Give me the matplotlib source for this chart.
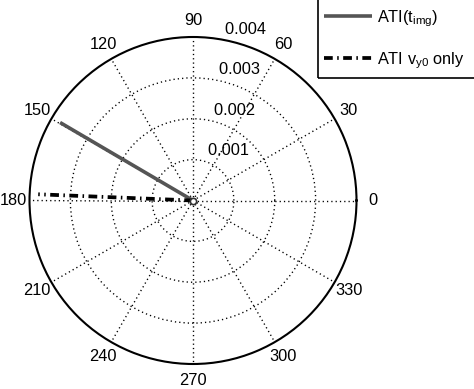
import numpy as np
import matplotlib
matplotlib.use("Agg")
import matplotlib.pyplot as plt
from matplotlib.patches import Rectangle

plt.rcParams['font.family'] = ['Liberation Sans', 'DejaVu Sans']
plt.rcParams['mathtext.fontset'] = 'custom'
plt.rcParams['mathtext.rm'] = 'Liberation Sans'
plt.rcParams['lines.scale_dashes'] = False

# data (angles in degrees, radii)
ati_theta_deg = [149.6, 149.6]
ati_r = [0.0, 0.00377]
vy0_theta_deg = [177.7, 177.7]
vy0_r = [0.0, 0.00379]
ring_values = [0.001, 0.002, 0.003, 0.004]
angle_ticks = list(range(0, 360, 30))
rmax = 0.004
labels = [r'ATI(t$_{\mathregular{img}}$)', r'ATI v$_{\mathregular{y0}}$ only']

W, H = 474, 389
fig = plt.figure(figsize=(W / 100, H / 100), dpi=100)
cx, cy, R = 193, 200.5, 163.5
ax = fig.add_axes([(cx - R) / W, (H - cy - R) / H, 2 * R / W, 2 * R / H], projection='polar')
ax.set_theta_zero_location('E')
ax.set_rlim(0, rmax)
ax.set_xticks(np.deg2rad(angle_ticks))
ax.set_xticklabels([])
ax.set_yticks(ring_values[:-1])
ax.set_yticklabels([])
ax.grid(True, color='black', linestyle=(0, (0.9, 2.2)), linewidth=1.0)
ax.spines['polar'].set_linewidth(1.5)
ax.spines['polar'].set_color('black')

fs = 11.8
# angle labels
for a in angle_ticks:
    ax.text(np.deg2rad(a), 1.1 * rmax, str(a), ha='center', va='center', fontsize=fs, clip_on=False)
# ring labels at 82 degrees
for v in ring_values:
    ax.text(np.deg2rad(82), v + rmax / 4 / 20, '  ' + f'{v:g}', ha='left', va='bottom', fontsize=fs, clip_on=False)

l1, = ax.plot(np.deg2rad(ati_theta_deg), ati_r, color='#555555', lw=2.6, solid_capstyle='butt', label=labels[0])
l2, = ax.plot(np.deg2rad(vy0_theta_deg), vy0_r, color='black', lw=2.7,
              dashes=(6.3, 3.2, 1.1, 3.2), dash_capstyle='butt', label=labels[1])
ax.plot([0], [0], marker='o', ms=4.5, mfc='white', mec='#333333', mew=1.2, ls='none')

leg = fig.legend(handles=[l1, l2], loc='upper left', bbox_to_anchor=(324 / W, 1 - 8 / H),
                 frameon=False, fontsize=fs, handlelength=2.9, handletextpad=0.35,
                 labelspacing=1.3, borderpad=0, borderaxespad=0)
fig.patches.append(Rectangle((318 / W, 1 - 78 / H), 0.5, 0.5, transform=fig.transFigure,
                             fill=False, edgecolor='black', linewidth=1.2))

fig.savefig('out.png', dpi=100)
